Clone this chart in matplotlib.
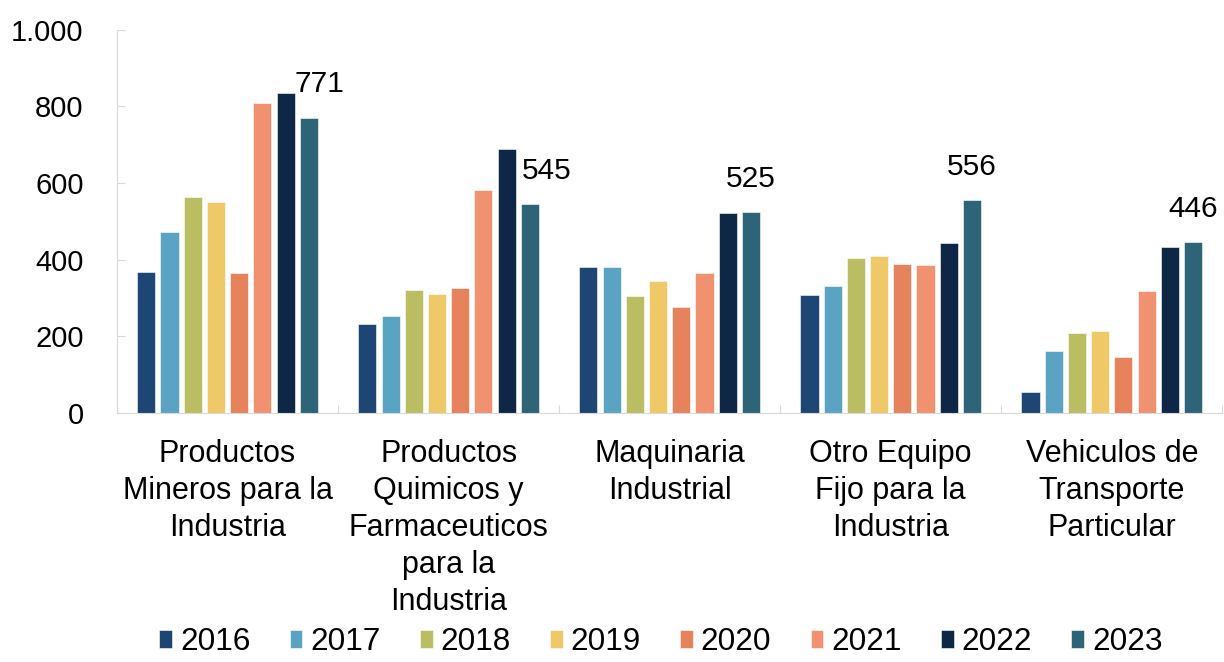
import numpy as np
import matplotlib.pyplot as plt
from matplotlib.ticker import FuncFormatter

categories = ["Productos\nMineros para la\nIndustria",
              "Productos\nQuimicos y\nFarmaceuticos\npara la\nIndustria",
              "Maquinaria\nIndustrial",
              "Otro Equipo\nFijo para la\nIndustria",
              "Vehiculos de\nTransporte\nParticular"]
years = ["2016", "2017", "2018", "2019", "2020", "2021", "2022", "2023"]
v2016 = [367, 232, 380, 309, 56]
v2017 = [472, 253, 380, 332, 161]
v2018 = [565, 320, 306, 404, 210]
v2019 = [550, 311, 344, 411, 214]
v2020 = [365, 326, 278, 390, 146]
v2021 = [808, 581, 366, 387, 319]
v2022 = [834, 688, 523, 443, 433]
v2023 = [771, 545, 525, 556, 446]
values = [v2016, v2017, v2018, v2019, v2020, v2021, v2022, v2023]

colors = ["#1d4674", "#5ba3c2", "#bbbd62", "#efc868",
          "#e6825c", "#f09270", "#0f2747", "#2e6478"]

plt.rcParams['font.family'] = ['Liberation Sans', 'DejaVu Sans']

fig = plt.figure(figsize=(12.24, 6.62), dpi=100)
ax = fig.add_axes([0.0956, 0.376, 0.903, 0.579])

x = np.arange(len(categories))
pitch = 0.105
width = 0.082
for i, (yr, vals) in enumerate(zip(years, values)):
    pos = x + (i - 3.5) * pitch
    ax.bar(pos, vals, width, color=colors[i], label=yr,
           edgecolor="white", linewidth=0.4)

# labels on the 2023 bars
last = x + 3.5 * pitch
label_dx = [8, 12, 0, 0, 0]
for xi, v, dx in zip(last, v2023, label_dx):
    ax.annotate(f"{v}", (xi, v), xytext=(dx, 24), textcoords="offset points",
                ha="center", va="center", fontsize=21.5)

ax.set_xlim(-0.5, len(categories) - 0.5)
ax.set_ylim(0, 1000)
ax.set_yticks(range(0, 1001, 200))
ax.yaxis.set_major_formatter(FuncFormatter(lambda v, p: f"{int(v):,}".replace(",", ".")))
ax.set_xticks(np.arange(-0.5, len(categories), 1.0))
ax.set_xticklabels([])
ax.set_xticks(x, minor=True)
ax.set_xticklabels(categories, minor=True, fontsize=22, linespacing=1.3)
ax.tick_params(axis="x", which="minor", length=0, pad=19)
ax.tick_params(axis="x", which="major", direction="in", length=6, color="#d9d9d9")
ax.tick_params(axis="y", direction="in", length=6, color="#d9d9d9", labelsize=21, pad=24)

for s in ["top", "right"]:
    ax.spines[s].set_visible(False)
for s in ["left", "bottom"]:
    ax.spines[s].set_color("#d9d9d9")

fig.legend(loc="lower center", bbox_to_anchor=(0.54, -0.035), ncol=8, frameon=False,
           fontsize=22.7, handlelength=0.4, handleheight=0.5, handletextpad=0.25,
           columnspacing=1.25)

fig.savefig("out.png", dpi=100)
